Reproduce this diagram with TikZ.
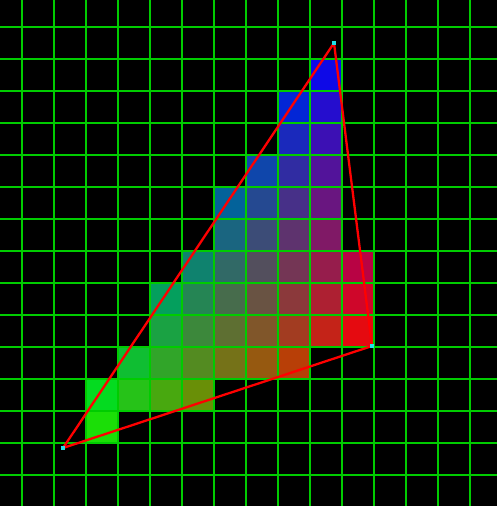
\documentclass[tikz,border=0pt]{standalone}
\usepackage{tikz}
\definecolor{gridcol}{HTML}{00CC00}
\definecolor{edgecol}{HTML}{FF0000}
\definecolor{vertcol}{HTML}{20E0E8}

\begin{document}
\begin{tikzpicture}[x=0.02cm, y=-0.02cm]
  % corners in pixel units: a = blue, b = red, c = green
  \def\ax{334}\def\ay{43}
  \def\bx{372}\def\by{346}
  \def\cx{63}\def\cy{448}
  \pgfmathsetmacro\den{(\by-\cy)/32*(\ax-\cx)/32+(\cx-\bx)/32*(\ay-\cy)/32}

  % background
  \fill[black] (0,0) rectangle (497,506);
  \useasboundingbox (0,0) rectangle (497,506);

  % covered cells (centre inside triangle), row / first / last column
  \foreach \j/\ia/\ib in {1/9/9, 2/8/9, 3/8/9, 4/7/9, 5/6/9, 6/6/9,
                          7/5/10, 8/4/10, 9/4/10, 10/3/8, 11/2/5, 12/2/2} {
    \foreach \i in {\ia,...,\ib} {
      \pgfmathsetmacro\px{38+32*\i}
      \pgfmathsetmacro\py{43+32*\j}
      \pgfmathsetmacro\wa{((\by-\cy)/32*(\px-\cx)/32+(\cx-\bx)/32*(\py-\cy)/32)/\den}
      \pgfmathsetmacro\wb{((\cy-\ay)/32*(\px-\cx)/32+(\ax-\cx)/32*(\py-\cy)/32)/\den}
      \pgfmathsetmacro\wc{1-\wa-\wb}
      \definecolor{cellcol}{rgb}{\wb,\wc,\wa}
      \fill[cellcol] (\px-16,\py-16) rectangle (\px+16,\py+16);
    }
  }

  % grid
  \foreach \gx in {22,54,...,470}
    \draw[gridcol, line width=1.15pt] (\gx,0)--(\gx,506);
  \foreach \gy in {27,59,...,475}
    \draw[gridcol, line width=1.15pt] (0,\gy)--(497,\gy);

  % triangle
  \coordinate (blue) at (\ax,\ay);
  \coordinate (red) at (\bx,\by);
  \coordinate (green) at (\cx,\cy);
  \draw[edgecol, line width=1.3pt, line join=round] (blue)--(red)--(green)--cycle;
  \foreach \v in {blue,red,green}
    \fill[vertcol] (\v) ++(-2,-2) rectangle ++(4,4);
\end{tikzpicture}
\end{document}
